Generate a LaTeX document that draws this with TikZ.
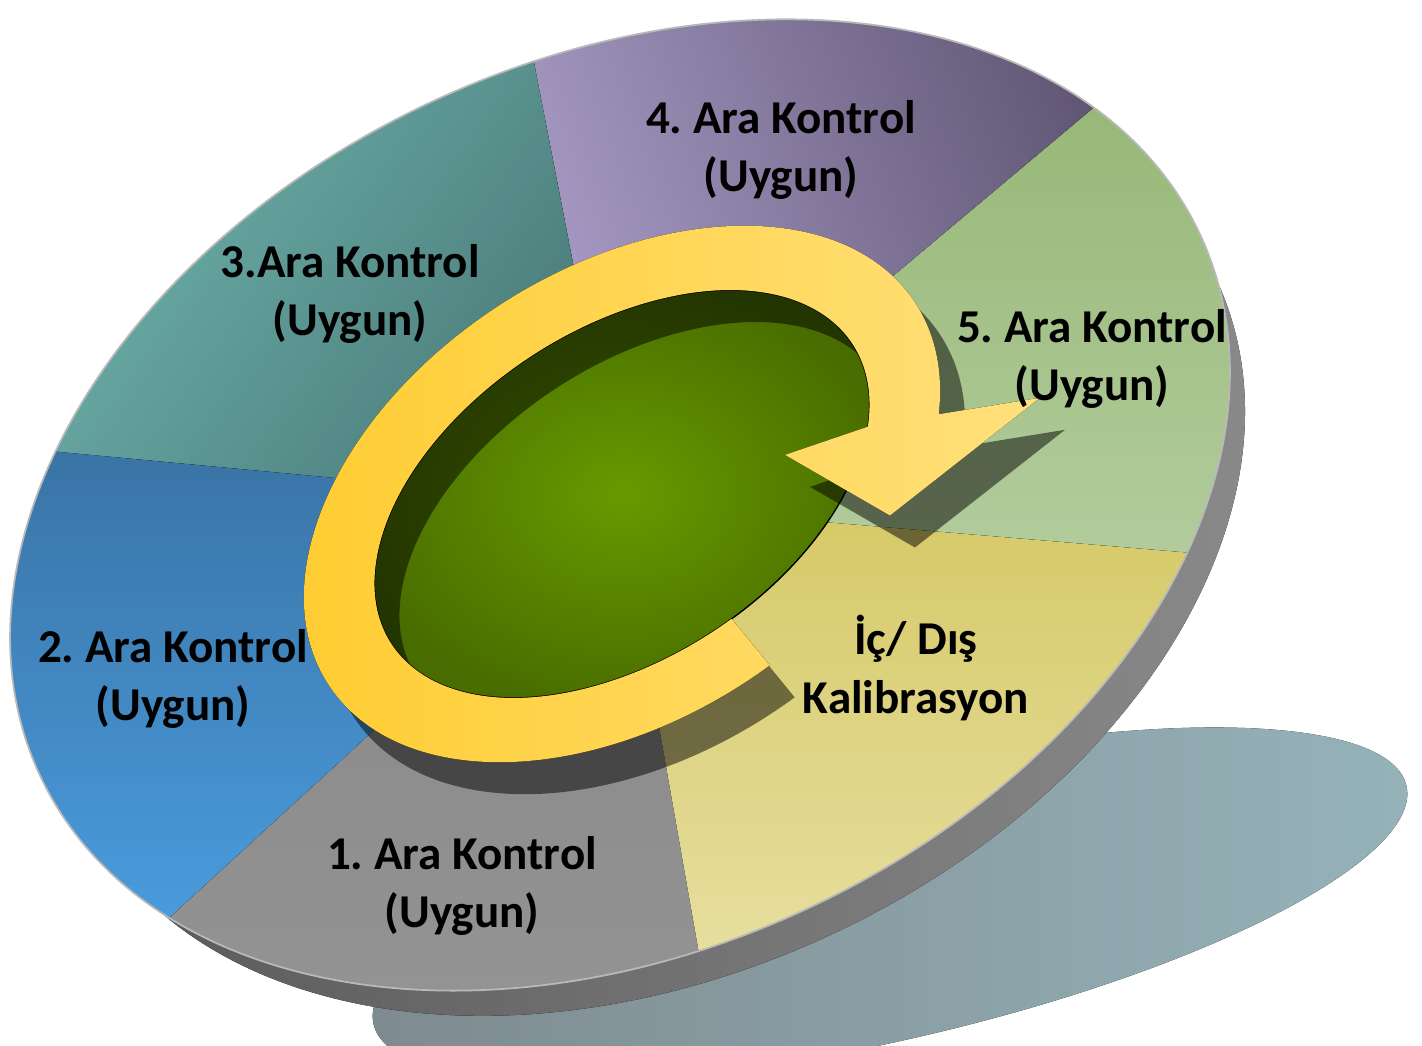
\documentclass[tikz,border=0pt]{standalone}
\usepackage{fontspec}
\setmainfont{Carlito}
\usepackage{tikz}
\usetikzlibrary{calc,backgrounds}
\definecolor{floorA}{HTML}{7E8A90}
\definecolor{floorB}{HTML}{96B3BA}
\definecolor{sideA}{HTML}{555555}
\definecolor{sideB}{HTML}{8C8C8C}
\definecolor{greenA}{HTML}{679A00}
\definecolor{greenB}{HTML}{486C00}
\definecolor{goldA}{HTML}{FFCC2E}
\definecolor{goldB}{HTML}{FFE07C}
\definecolor{five1}{HTML}{96B776}
\definecolor{five2}{HTML}{B2CC9C}
\definecolor{four1}{HTML}{AB9FCA}
\definecolor{four2}{HTML}{5B516E}
\definecolor{three1}{HTML}{78C1BA}
\definecolor{three2}{HTML}{4B7C7A}
\definecolor{two1}{HTML}{3A73A5}
\definecolor{two2}{HTML}{4A9EE0}
\definecolor{one1}{HTML}{878787}
\definecolor{one2}{HTML}{989898}
\definecolor{cal1}{HTML}{D6C968}
\definecolor{cal2}{HTML}{EDE8B6}

% turning arrow round the hole, in the frame of the hole
\newcommand{\turnarrow}{(275:3.5 and 2.25) arc[start angle=275, end angle=-28, x radius=3.5, y radius=2.25]
	-- (4.03,-1.47) -- (2.13,-1.64) -- (1.58,-0.56)
	-- (-28:2.75 and 1.65) arc[start angle=-28, end angle=275, x radius=2.75, y radius=1.65] -- cycle}

\begin{document}
\frenchspacing
\begin{tikzpicture}[lbl/.style={font=\bfseries\fontsize{13.4}{16.6}\selectfont,align=center,inner sep=0pt}]
	\useasboundingbox (0,0) rectangle (14.22,10.46);
	\coordinate (ring) at (6.20,5.41);
	\coordinate (hole) at (6.22,5.52);
	% shadow on the floor
	\fill[left color=floorA, right color=floorB, rotate around={13:(8.90,1.41)}] (8.90,1.41) ellipse (5.3 and 1.35);
	% side of the disc
	\fill[left color=sideA, right color=sideB, rotate around={25:(6.49,5.02)}] (6.49,5.02) ellipse (6.26 and 4.31);
	% sectors
	\begin{scope}
		\clip[rotate around={25:(ring)}] (ring) ellipse (6.4 and 4.45);
		\foreach \a/\b/\n/\s in {-4.8/40/five/0, 40/101/four/110, 101/174.6/three/55,
			174.6/222.5/two/0, 222.5/280/one/0, 280/355.2/cal/0}
		\fill[top color=\n1, bottom color=\n2, shading angle=\s] (ring) -- ++(\a:6.6) arc[start angle=\a, end angle=\b, radius=6.6] -- cycle;
	\end{scope}
	\draw[gray!55, line width=0.5pt, rotate around={25:(ring)}] (ring) ellipse (6.4 and 4.45);
	% hole
	\fill[inner color=greenA, outer color=greenB, rotate around={33:(hole)}] (hole) ellipse (2.75 and 1.65);
	\draw[thin, rotate around={33:(hole)}] (hole) ellipse (2.75 and 1.65);
	% arrow and its shadow
	\begin{scope}[shift={(6.47,5.20)}, rotate=33]
		\fill[black, opacity=0.5] \turnarrow;
	\end{scope}
	\begin{scope}[shift={(6.22,5.52)}, rotate=33]
		\fill[left color=goldA, right color=goldB] \turnarrow;
	\end{scope}
	% labels
	\node[lbl] (four) at (7.81,8.96) {4. Ara Kontrol\\(Uygun)};
	\node[lbl] (three) at (3.50,7.52) {3.Ara Kontrol\\(Uygun)};
	\node[lbl] (five) at (10.92,6.87) {5. Ara Kontrol\\(Uygun)};
	\node[lbl] (two) at (1.73,3.67) {2. Ara Kontrol\\(Uygun)};
	\node[lbl] (one) at (4.62,1.60) {1. Ara Kontrol\\(Uygun)};
	\node[lbl] (cal) at (9.16,3.78) {İç/ Dış\\Kalibrasyon};
\end{tikzpicture}
\end{document}
